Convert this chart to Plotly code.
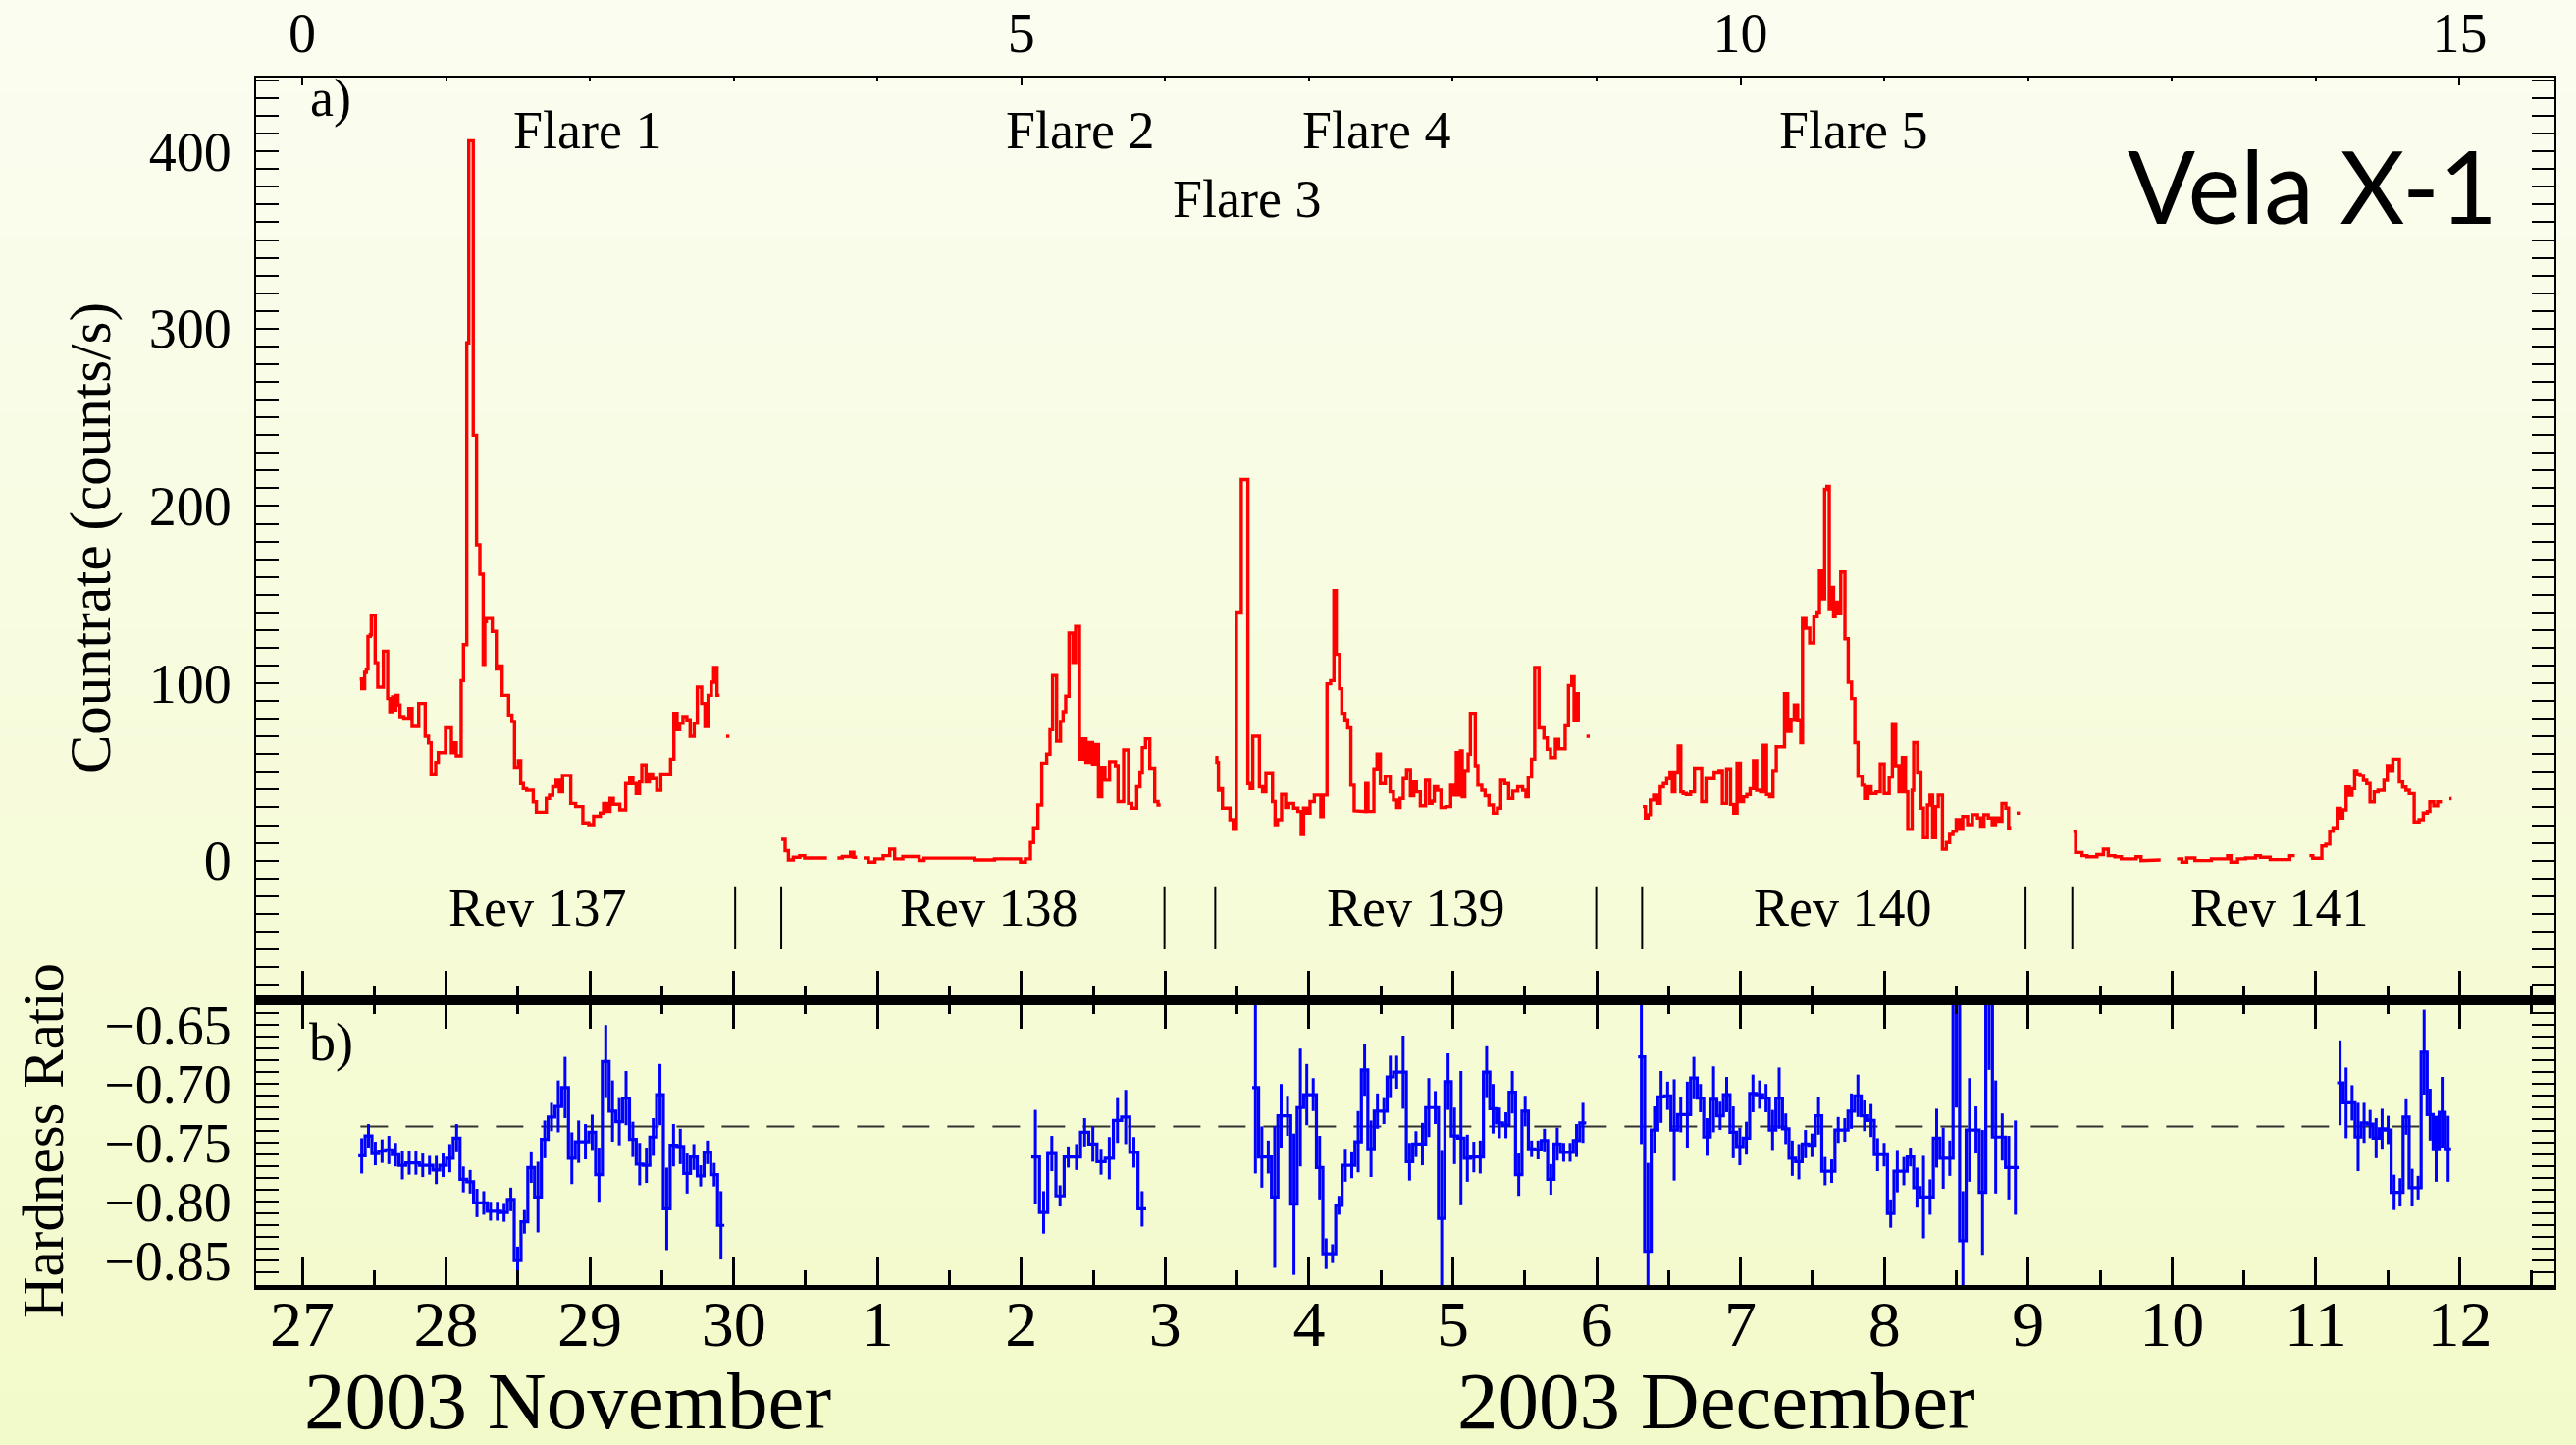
import numpy as np
import plotly.graph_objects as go

# ---------------------------------------------------------------------------
# Vela X-1 light curve, time in days since 2003 Nov 27.0
# Countrate: step bins, value cr_v[i] holds from cr_t[i] to cr_t[i+1]; None = gap
# ---------------------------------------------------------------------------
cr137_t = [0.400, 0.414, 0.434, 0.446, 0.457, 0.473, 0.480, 0.507, 0.525, 0.564, 0.594, 0.609, 0.628,
           0.639, 0.650, 0.666, 0.680, 0.707, 0.741, 0.764, 0.810, 0.855, 0.878, 0.896, 0.928, 0.946,
           0.996, 1.037, 1.051, 1.071, 1.105, 1.121, 1.144, 1.158, 1.189, 1.212, 1.235, 1.258, 1.269,
           1.280, 1.321, 1.349, 1.367, 1.390, 1.435, 1.458, 1.476, 1.503, 1.519, 1.537, 1.560, 1.606,
           1.628, 1.697, 1.719, 1.742, 1.765, 1.788, 1.810, 1.867, 1.901, 1.951, 1.992, 2.026, 2.072,
           2.095, 2.117, 2.140, 2.163, 2.208, 2.249, 2.277, 2.299, 2.322, 2.345, 2.361, 2.390, 2.413,
           2.436, 2.465, 2.493, 2.561, 2.584, 2.606, 2.624, 2.647, 2.674, 2.697, 2.725, 2.747, 2.777,
           2.800, 2.822, 2.845, 2.861, 2.884, 2.902, 2.947, 2.970]
cr137_v = [102.4, 96.9, 106.1, 108.0, 126.4, 127.3, 138.4, 111.6, 97.8, 118.1, 91.4, 84.0, 92.3, 84.9,
           93.2, 87.7, 81.2, 80.3, 85.8, 75.7, 88.6, 70.1, 66.4, 48.9, 55.4, 60.9, 74.8, 60.9, 66.4,
           59.1, 101.5, 121.8, 292.0, 406.0, 239.9, 178.1, 161.5, 110.7, 134.7, 136.5, 129.2, 108.0,
           109.8, 93.2, 82.1, 78.4, 52.6, 56.3, 43.4, 40.6, 39.7, 33.2, 27.3, 35.1, 36.9, 41.6, 45.2,
           38.8, 48.0, 32.3, 30.5, 21.3, 20.3, 25.0, 26.8, 32.3, 27.7, 35.1, 31.8, 28.6, 43.4, 47.1,
           43.4, 37.9, 44.3, 53.9, 44.3, 48.9, 46.2, 39.7, 48.9, 57.2, 83.1, 73.8, 77.5, 81.2, 79.4,
           70.1, 77.5, 97.8, 88.6, 75.7, 93.2, 100.6, 108.9, 93.2, None, 70.1]

cr138_t = [3.330, 3.357, 3.380, 3.414, 3.459, 3.493, 3.648, 3.721, 3.755, 3.812, 3.835, 3.857, 3.903,
           3.937, 3.982, 4.039, 4.085, 4.119, 4.176, 4.289, 4.323, 4.676, 4.813, 4.994, 5.028, 5.063,
           5.085, 5.115, 5.142, 5.176, 5.199, 5.217, 5.245, 5.272, 5.290, 5.308, 5.331, 5.358, 5.377,
           5.404, 5.427, 5.449, 5.472, 5.495, 5.513, 5.536, 5.559, 5.581, 5.613, 5.654, 5.672, 5.711,
           5.745, 5.768, 5.802, 5.825, 5.841, 5.863, 5.893, 5.927, 5.950, 5.968]
cr138_v = [12.0, 5.6, 0.4, 1.9, 2.8, 1.5, None, 1.5, 2.3, 4.7, 1.9, None, 1.5, -0.9, 1.0, 2.8, 6.5, 1.0,
           2.3, 0.1, 1.4, 0.4, 1.0, -0.9, 1.0, 10.2, 18.5, 31.4, 55.0, 60.0, 73.8, 104.3, 67.4, 78.5,
           84.0, 92.7, 128.3, 111.7, 132.0, 57.2, 68.7, 55.4, 66.5, 54.5, 65.5, 36.0, 52.6, 45.3, 55.8,
           53.5, 33.3, 62.4, 32.3, 29.6, 41.6, 49.9, 63.7, 68.7, 52.1, 33.3, 31.4]

cr139_t = [6.348, 6.359, 6.370, 6.382, 6.398, 6.450, 6.473, 6.495, 6.529, 6.575, 6.591, 6.609, 6.655,
           6.677, 6.700, 6.746, 6.764, 6.780, 6.809, 6.837, 6.859, 6.893, 6.923, 6.946, 6.962, 6.984,
           7.007, 7.037, 7.082, 7.098, 7.125, 7.150, 7.173, 7.189, 7.212, 7.228, 7.250, 7.269, 7.291,
           7.314, 7.348, 7.394, 7.410, 7.451, 7.473, 7.496, 7.530, 7.564, 7.587, 7.610, 7.633, 7.655,
           7.678, 7.705, 7.728, 7.746, 7.774, 7.810, 7.837, 7.855, 7.871, 7.894, 7.917, 7.951, 7.985,
           8.008, 8.024, 8.037, 8.053, 8.065, 8.083, 8.106, 8.122, 8.156, 8.174, 8.201, 8.224, 8.251,
           8.281, 8.310, 8.333, 8.360, 8.388, 8.417, 8.451, 8.485, 8.508, 8.524, 8.547, 8.569, 8.599,
           8.633, 8.656, 8.679, 8.713, 8.736, 8.781, 8.804, 8.827, 8.843, 8.856, 8.872, 8.883, 8.929,
           8.952]
cr139_v = [58.1, 55.4, 39.7, 40.6, 29.6, 23.1, 17.6, 140.2, 214.9, 43.4, 40.6, 70.1, 41.6, 38.8, 49.5,
           33.3, 20.3, 23.1, 37.3, 29.9, 32.3, 29.6, 27.7, 14.8, 29.6, 26.8, 33.3, 37.0, 24.9, 37.0,
           99.7, 101.5, 152.2, 116.3, 96.9, 83.1, 79.4, 74.8, 42.5, 28.1, 27.7, 43.4, 27.7, 51.7, 60.0,
           43.4, 47.6, 38.8, 34.2, 29.9, 35.1, 46.2, 51.3, 36.6, 44.3, 38.8, 31.0, 45.2, 32.3, 33.6,
           41.6, 39.7, 29.9, 30.5, 42.5, 37.0, 60.9, 37.0, 61.8, 36.0, 50.8, 60.0, 83.1, 53.5, 42.5,
           39.7, 36.6, 31.4, 26.8, 29.6, 45.2, 43.4, 35.1, 39.2, 41.6, 39.7, 36.0, 47.1, 57.2, 108.9,
           74.8, 69.2, 62.8, 58.1, 68.3, 63.1, 76.0, 98.7, 103.7, 79.4, 94.1, 79.4, None, 70.1]

cr140_t = [9.321, 9.339, 9.357, 9.373, 9.396, 9.419, 9.442, 9.464, 9.487, 9.510, 9.526, 9.544, 9.567,
           9.585, 9.601, 9.623, 9.653, 9.680, 9.730, 9.760, 9.817, 9.851, 9.874, 9.903, 9.931, 9.953,
           9.976, 9.999, 10.021, 10.044, 10.067, 10.090, 10.112, 10.140, 10.158, 10.181, 10.203,
           10.226, 10.249, 10.306, 10.328, 10.351, 10.374, 10.397, 10.419, 10.431, 10.454, 10.481,
           10.510, 10.533, 10.549, 10.567, 10.585, 10.601, 10.617, 10.631, 10.647, 10.658, 10.674,
           10.697, 10.726, 10.749, 10.772, 10.795, 10.817, 10.845, 10.863, 10.886, 10.908, 10.943,
           10.972, 10.999, 11.034, 11.056, 11.079, 11.102, 11.125, 11.147, 11.163, 11.193, 11.204,
           11.231, 11.254, 11.272, 11.300, 11.318, 11.336, 11.356, 11.375, 11.404, 11.431, 11.454,
           11.477, 11.500, 11.522, 11.545, 11.579, 11.613, 11.648, 11.670, 11.693, 11.723, 11.750,
           11.773, 11.795, 11.818, 11.845, 11.864, 11.882, 11.920, 11.943]
cr140_v = [30.5, 24.0, 25.9, 34.2, 37.0, 32.3, 41.6, 43.4, 46.2, 49.9, 38.8, 49.9, 64.6, 38.8, 37.9,
           37.3, 38.8, 52.1, 33.3, 46.2, 49.9, 50.8, 32.3, 51.7, 31.7, 26.8, 55.0, 33.3, 36.0, 37.3,
           40.6, 56.3, 39.7, 38.8, 65.0, 37.3, 36.0, 50.8, 64.2, 94.1, 72.9, 79.7, 87.7, 79.4, 66.5,
           136.5, 131.0, 122.7, 137.5, 140.2, 163.3, 147.6, 209.4, 211.0, 142.1, 154.1, 137.5, 145.8,
           139.3, 162.7, 125.1, 100.6, 91.4, 66.5, 47.6, 42.5, 35.1, 41.6, 37.9, 38.8, 54.5, 37.9,
           47.1, 76.6, 53.5, 38.8, 58.1, 38.8, 17.6, 39.7, 66.5, 49.9, 29.6, 12.9, 31.4, 37.0, 12.9,
           30.5, 37.0, 6.5, 10.2, 14.8, 16.6, 23.1, 17.6, 24.9, 20.3, 25.9, 24.0, 19.4, 25.9, 24.0,
           20.3, 24.0, 22.2, 32.3, 29.6, 18.5, None, 26.8]

cr141_t = [12.314, 12.330, 12.375, 12.409, 12.478, 12.523, 12.557, 12.603, 12.648, 12.751, 12.785,
           12.864, 12.921, 13.035, 13.069, 13.103, 13.160, 13.274, 13.387, 13.410, 13.456, 13.512,
           13.581, 13.615, 13.683, 13.819, 13.854, 13.956, 13.979, 14.042, 14.070, 14.097, 14.120,
           14.149, 14.172, 14.188, 14.211, 14.233, 14.252, 14.270, 14.286, 14.308, 14.331, 14.354,
           14.377, 14.406, 14.433, 14.474, 14.497, 14.520, 14.536, 14.581, 14.604, 14.627, 14.650,
           14.684, 14.718, 14.747, 14.775, 14.793, 14.820, 14.847, 14.877, 14.929, 14.945]
cr141_v = [16.6, 4.6, 2.8, 2.2, 3.4, 6.5, 2.8, 2.2, 1.0, 2.2, 0.0, 0.4, None, 1.0, -0.9, 1.5, 0.0, 1.0,
           2.8, -0.9, 1.0, 1.5, 2.8, 1.9, 0.6, 2.8, None, 2.8, 1.3, 8.3, 9.3, 16.6, 18.5, 29.5, 24.0,
           28.6, 41.5, 36.9, 40.6, 50.8, 48.9, 48.0, 45.2, 43.4, 33.2, 38.8, 39.7, 45.2, 53.5, 50.8,
           57.2, 44.3, 41.5, 39.7, 37.8, 21.8, 23.1, 26.8, 27.7, 33.2, 31.0, 33.2, None, 35.0]

# ---------------------------------------------------------------------------
# Hardness ratio: equal-width bins per revolution (first/last bin edge), value and 1-sigma error
# ---------------------------------------------------------------------------
hr_t_start = [0.390, 5.069, 6.605, 9.288, 14.148]
hr_t_end = [2.935, 5.868, 8.927, 11.934, 14.941]

hr137_v = [-0.761, -0.744, -0.759, -0.757, -0.756, -0.760, -0.769, -0.767, -0.767, -0.769, -0.769,
           -0.773, -0.769, -0.763, -0.746, -0.781, -0.783, -0.801, -0.801, -0.808, -0.808, -0.809,
           -0.798, -0.850, -0.817, -0.771, -0.796, -0.747, -0.728, -0.719, -0.703, -0.763, -0.749,
           -0.749, -0.741, -0.777, -0.681, -0.723, -0.732, -0.712, -0.747, -0.768, -0.769, -0.745,
           -0.709, -0.806, -0.752, -0.753, -0.776, -0.762, -0.778, -0.758, -0.777, -0.820]
hr137_e = [0.015, 0.010, 0.010, 0.010, 0.012, 0.010, 0.012, 0.010, 0.010, 0.010, 0.008, 0.012, 0.010,
           0.012, 0.012, 0.011, 0.010, 0.012, 0.010, 0.008, 0.008, 0.008, 0.010, 0.012, 0.010, 0.013,
           0.030, 0.016, 0.012, 0.022, 0.026, 0.022, 0.018, 0.015, 0.015, 0.023, 0.031, 0.026, 0.020,
           0.023, 0.015, 0.018, 0.015, 0.016, 0.026, 0.035, 0.018, 0.015, 0.017, 0.011, 0.009, 0.010,
           0.010, 0.029]

hr138_v = [-0.762, -0.809, -0.759, -0.795, -0.762, -0.762, -0.741, -0.751, -0.766, -0.763, -0.731,
           -0.728, -0.758, -0.806]
hr138_e = [0.040, 0.018, 0.015, 0.009, 0.009, 0.011, 0.012, 0.015, 0.011, 0.018, 0.019, 0.023, 0.013,
           0.015]

hr139_v = [-0.703, -0.762, -0.762, -0.796, -0.727, -0.727, -0.802, -0.720, -0.709, -0.709, -0.771,
           -0.844, -0.844, -0.803, -0.769, -0.769, -0.749, -0.688, -0.755, -0.723, -0.723, -0.694,
           -0.690, -0.690, -0.766, -0.751, -0.751, -0.720, -0.720, -0.814, -0.698, -0.744, -0.746,
           -0.763, -0.762, -0.762, -0.690, -0.721, -0.733, -0.735, -0.707, -0.777, -0.723, -0.755,
           -0.756, -0.748, -0.781, -0.751, -0.758, -0.758, -0.748, -0.733]
hr139_e = [0.073, 0.026, 0.014, 0.060, 0.027, 0.017, 0.060, 0.050, 0.026, 0.014, 0.027, 0.013, 0.008,
           0.008, 0.014, 0.011, 0.026, 0.022, 0.024, 0.015, 0.011, 0.018, 0.014, 0.031, 0.016, 0.011,
           0.018, 0.025, 0.014, 0.058, 0.024, 0.024, 0.057, 0.020, 0.013, 0.014, 0.022, 0.021, 0.013,
           0.011, 0.018, 0.018, 0.013, 0.007, 0.008, 0.010, 0.013, 0.014, 0.008, 0.008, 0.014, 0.017]

hr140_v = [-0.677, -0.842, -0.739, -0.711, -0.710, -0.739, -0.726, -0.726, -0.695, -0.712, -0.745,
           -0.713, -0.727, -0.709, -0.741, -0.753, -0.746, -0.708, -0.709, -0.712, -0.739, -0.712,
           -0.738, -0.763, -0.766, -0.751, -0.752, -0.727, -0.774, -0.774, -0.739, -0.739, -0.723,
           -0.710, -0.727, -0.731, -0.760, -0.760, -0.810, -0.774, -0.774, -0.762, -0.788, -0.796,
           -0.796, -0.746, -0.763, -0.763, -0.600, -0.833, -0.739, -0.739, -0.792, -0.600, -0.745,
           -0.745, -0.771, -0.771]
hr140_e = [0.074, 0.075, 0.020, 0.022, 0.012, 0.043, 0.015, 0.028, 0.018, 0.012, 0.016, 0.028, 0.012,
           0.015, 0.022, 0.016, 0.014, 0.016, 0.012, 0.012, 0.017, 0.026, 0.013, 0.015, 0.015, 0.012,
           0.010, 0.016, 0.012, 0.010, 0.011, 0.010, 0.015, 0.018, 0.013, 0.014, 0.014, 0.010, 0.012,
           0.018, 0.012, 0.008, 0.017, 0.035, 0.015, 0.025, 0.026, 0.015, 0.120, 0.042, 0.044, 0.020,
           0.053, 0.088, 0.048, 0.020, 0.027, 0.040]

hr141_v = [-0.699, -0.716, -0.716, -0.745, -0.733, -0.734, -0.746, -0.738, -0.739, -0.792, -0.792,
           -0.728, -0.788, -0.788, -0.673, -0.726, -0.755, -0.724, -0.755]
hr141_e = [0.036, 0.030, 0.015, 0.029, 0.017, 0.012, 0.017, 0.017, 0.012, 0.015, 0.012, 0.015, 0.016,
           0.010, 0.036, 0.022, 0.028, 0.030, 0.028]

hr_mean = -0.736
hr_mean_span = [0.405, 14.83]

# revolution boundaries (days) and labels
rev_bounds = [3.010, 3.330, 5.995, 6.348, 8.997, 9.316, 11.982, 12.307]
rev_names = ["Rev 137", "Rev 138", "Rev 139", "Rev 140", "Rev 141"]
rev_label_x = [1.64, 4.775, 7.745, 10.715, 13.75]
rev_label_y = -27.0
rev_mark_y = [-15.0, -50.0]

flare_names = ["Flare 1", "Flare 2", "Flare 3", "Flare 4", "Flare 5"]
flare_x = [1.98, 5.405, 6.567, 7.465, 10.785]
flare_y = [412.0, 412.0, 373.0, 412.0, 412.0]

# axis ticks: day 0 = 2003 Nov 27
day_ticks = list(range(16))
date_labels = ["27", "28", "29", "30", "1", "2", "3", "4", "5", "6", "7", "8", "9", "10", "11", "12"]
top_ticks = [0, 5, 10, 15]

# ---------------------------------------------------------------------------
W, H = 2625, 1472
X_RANGE = [-0.3207, 15.659]
X_DOM = [261 / W, 2603 / W]
Y1_DOM = [1 - 1019 / H, 1 - 78.7 / H]
Y2_DOM = [1 - 1309 / H, 1 - 1019 / H]
SERIF = "Liberation Serif"
RED, BLUE = "#ff0000", "#0000ff"


def step_path(t, v):
    xs, ys = [], []
    for i, val in enumerate(v):
        if val is None:
            xs.append(None)
            ys.append(None)
            continue
        xs += [t[i], t[i + 1]]
        ys += [val, val]
    xs.append(None)
    ys.append(None)
    return xs, ys


fig = go.Figure()

# soft vertical background gradient
top_rgb, bot_rgb = (251, 253, 241), (243, 250, 201)
nb = 140
for i in range(nb):
    f = (i + 0.5) / nb
    c = tuple(round(top_rgb[k] + (bot_rgb[k] - top_rgb[k]) * f) for k in range(3))
    fig.add_shape(type="rect", xref="paper", yref="paper", x0=0, x1=1,
                  y0=max(0, 1 - (i + 1) / nb - 0.002), y1=1 - i / nb,
                  fillcolor="rgb(%d,%d,%d)" % c, line_width=0, layer="below")

# countrate light curve
cx, cy = [], []
for t, v in [(cr137_t, cr137_v), (cr138_t, cr138_v), (cr139_t, cr139_v),
             (cr140_t, cr140_v), (cr141_t, cr141_v)]:
    a, b = step_path(t, v)
    cx += a
    cy += b
fig.add_trace(go.Scatter(x=cx, y=cy, xaxis="x2", yaxis="y", mode="lines",
                         line=dict(color=RED, width=3.4), hoverinfo="skip", showlegend=False))

# revolution boundary markers
rx, ry = [], []
for b in rev_bounds:
    rx += [b, b, None]
    ry += [rev_mark_y[0], rev_mark_y[1], None]
fig.add_trace(go.Scatter(x=rx, y=ry, xaxis="x2", yaxis="y", mode="lines",
                         line=dict(color="black", width=2), hoverinfo="skip", showlegend=False))

# hardness ratio
hr_sets = [(hr137_v, hr137_e), (hr138_v, hr138_e), (hr139_v, hr139_e),
           (hr140_v, hr140_e), (hr141_v, hr141_e)]
hx, hy, ex, ey, ee = [], [], [], [], []
for (vals, errs), t0, t1 in zip(hr_sets, hr_t_start, hr_t_end):
    edges = np.linspace(t0, t1, len(vals) + 1)
    a, b = step_path(list(edges), vals)
    hx += a
    hy += b
    ex += list(0.5 * (edges[:-1] + edges[1:]))
    ey += vals
    ee += errs

fig.add_trace(go.Scatter(x=hr_mean_span, y=[hr_mean, hr_mean], xaxis="x", yaxis="y2", mode="lines",
                         line=dict(color="#333333", width=2, dash="28px,18px"),
                         hoverinfo="skip", showlegend=False))
fig.add_trace(go.Scatter(x=hx, y=hy, xaxis="x", yaxis="y2", mode="lines",
                         line=dict(color=BLUE, width=3.2), hoverinfo="skip", showlegend=False))
fig.add_trace(go.Scatter(x=ex, y=ey, xaxis="x", yaxis="y2", mode="markers",
                         marker=dict(size=1, color="rgba(0,0,0,0)"),
                         error_y=dict(type="data", array=ee, visible=True, width=0,
                                      thickness=3, color=BLUE),
                         hoverinfo="skip", showlegend=False))
# placeholders so the overlay axes get drawn
fig.add_trace(go.Scatter(x=[None], y=[None], xaxis="x3", yaxis="y", showlegend=False))
fig.add_trace(go.Scatter(x=[None], y=[None], xaxis="x4", yaxis="y2", showlegend=False))

half_ticks = [d + 0.5 for d in range(16)]
minor_top = [d for d in range(16) if d not in top_ticks]
base_x = dict(range=X_RANGE, domain=X_DOM, showgrid=False, zeroline=False, fixedrange=True,
              automargin=False)
date_tickfont = dict(family=SERIF, size=66, color="black")

fig.update_layout(
    width=W, height=H, autosize=False,
    margin=dict(l=0, r=0, t=0, b=0),
    paper_bgcolor="rgb(247,251,220)", plot_bgcolor="rgba(0,0,0,0)",
    xaxis=dict(**base_x, anchor="y2", side="bottom", tickmode="array", tickvals=day_ticks,
               ticktext=date_labels, ticks="inside", ticklen=29, tickwidth=2.5, tickcolor="black",
               showline=True, linewidth=4.5, linecolor="black", tickfont=date_tickfont,
               ticklabelstandoff=-22,
               minor=dict(tickmode="array", tickvals=half_ticks, ticks="inside", ticklen=15,
                          tickwidth=2.5, tickcolor="black")),
    xaxis4=dict(**base_x, anchor="y2", overlaying="x", side="top", tickmode="array",
                tickvals=day_ticks, ticks="inside", ticklen=29, tickwidth=2.5, tickcolor="black",
                showticklabels=False, showline=True, linewidth=4.5, linecolor="black",
                minor=dict(tickmode="array", tickvals=half_ticks, ticks="inside", ticklen=14,
                           tickwidth=2.5, tickcolor="black")),
    xaxis2=dict(**base_x, anchor="y", side="bottom", tickmode="array", tickvals=day_ticks,
                ticks="inside", ticklen=30, tickwidth=2.5, tickcolor="black", showticklabels=False,
                showline=True, linewidth=4.5, linecolor="black",
                minor=dict(tickmode="array", tickvals=half_ticks, ticks="inside", ticklen=15,
                           tickwidth=2.5, tickcolor="black")),
    xaxis3=dict(**base_x, anchor="y", overlaying="x2", side="top", tickmode="array",
                tickvals=top_ticks, ticks="inside", ticklen=8, tickwidth=1.5, tickcolor="black",
                showline=True, linewidth=2, linecolor="black", ticklabelstandoff=1,
                tickfont=dict(family=SERIF, size=56, color="black"),
                minor=dict(tickmode="array", tickvals=minor_top, ticks="inside", ticklen=4,
                           tickwidth=1.5, tickcolor="black")),
    yaxis=dict(domain=Y1_DOM, range=[-78.8, 441.8], anchor="x2", tickmode="linear", tick0=0,
               dtick=100, ticks="inside", ticklen=23, tickwidth=2, tickcolor="black",
               showline=True, linewidth=2, linecolor="black", mirror="allticks",
               showgrid=False, zeroline=False, fixedrange=True, ticklabelstandoff=12,
               automargin=False, tickfont=dict(family=SERIF, size=56, color="black"),
               minor=dict(tickmode="linear", tick0=0, dtick=10, ticks="inside", ticklen=11,
                          tickwidth=1.5, tickcolor="black")),
    yaxis2=dict(domain=Y2_DOM, range=[-0.8706, -0.6290], anchor="x", tickmode="linear", tick0=0,
                dtick=0.05, tickformat=".2f", ticks="inside", ticklen=23, tickwidth=2,
                tickcolor="black", showline=True, linewidth=2, linecolor="black",
                mirror="allticks", showgrid=False, zeroline=False, fixedrange=True,
                ticklabelstandoff=12, automargin=False,
                tickfont=dict(family=SERIF, size=56, color="black"),
                minor=dict(tickmode="linear", tick0=0, dtick=0.01, ticks="inside", ticklen=11,
                           tickwidth=1.5, tickcolor="black")),
)

ann = []
txt = dict(showarrow=False, xanchor="center", yanchor="middle")
for name, x, y in zip(flare_names, flare_x, flare_y):
    ann.append(dict(x=x, y=y, xref="x2", yref="y", text=name, **txt,
                    font=dict(family=SERIF, size=54, color="black")))
for name, x in zip(rev_names, rev_label_x):
    ann.append(dict(x=x, y=rev_label_y, xref="x2", yref="y", text=name, **txt,
                    font=dict(family=SERIF, size=54, color="black")))
ann.append(dict(x=0.198, y=430, xref="x2", yref="y", text="a)", **txt,
                font=dict(family=SERIF, size=54, color="black")))
ann.append(dict(x=0.2, y=-0.665, xref="x", yref="y2", text="b)", **txt,
                font=dict(family=SERIF, size=54, color="black")))
ann.append(dict(x=2547 / W, y=1 - 188 / H, xref="paper", yref="paper", xanchor="right",
                yanchor="middle", text="Vela X-1", showarrow=False,
                font=dict(family="Lato", size=102, color="black")))
ann.append(dict(x=92 / W, y=1 - 548 / H, xref="paper", yref="paper", text="Countrate (counts/s)",
                textangle=-90, **txt, font=dict(family=SERIF, size=59, color="black")))
ann.append(dict(x=44 / W, y=1 - 1162 / H, xref="paper", yref="paper", text="Hardness Ratio",
                textangle=-90, **txt, font=dict(family=SERIF, size=59, color="black")))
ann.append(dict(x=578 / W, y=1 - 1427 / H, xref="paper", yref="paper", text="2003 November",
                **txt, font=dict(family=SERIF, size=83, color="black")))
ann.append(dict(x=1749 / W, y=1 - 1427 / H, xref="paper", yref="paper", text="2003 December",
                **txt, font=dict(family=SERIF, size=83, color="black")))
fig.update_layout(annotations=ann)

fig.write_html("out.html")
